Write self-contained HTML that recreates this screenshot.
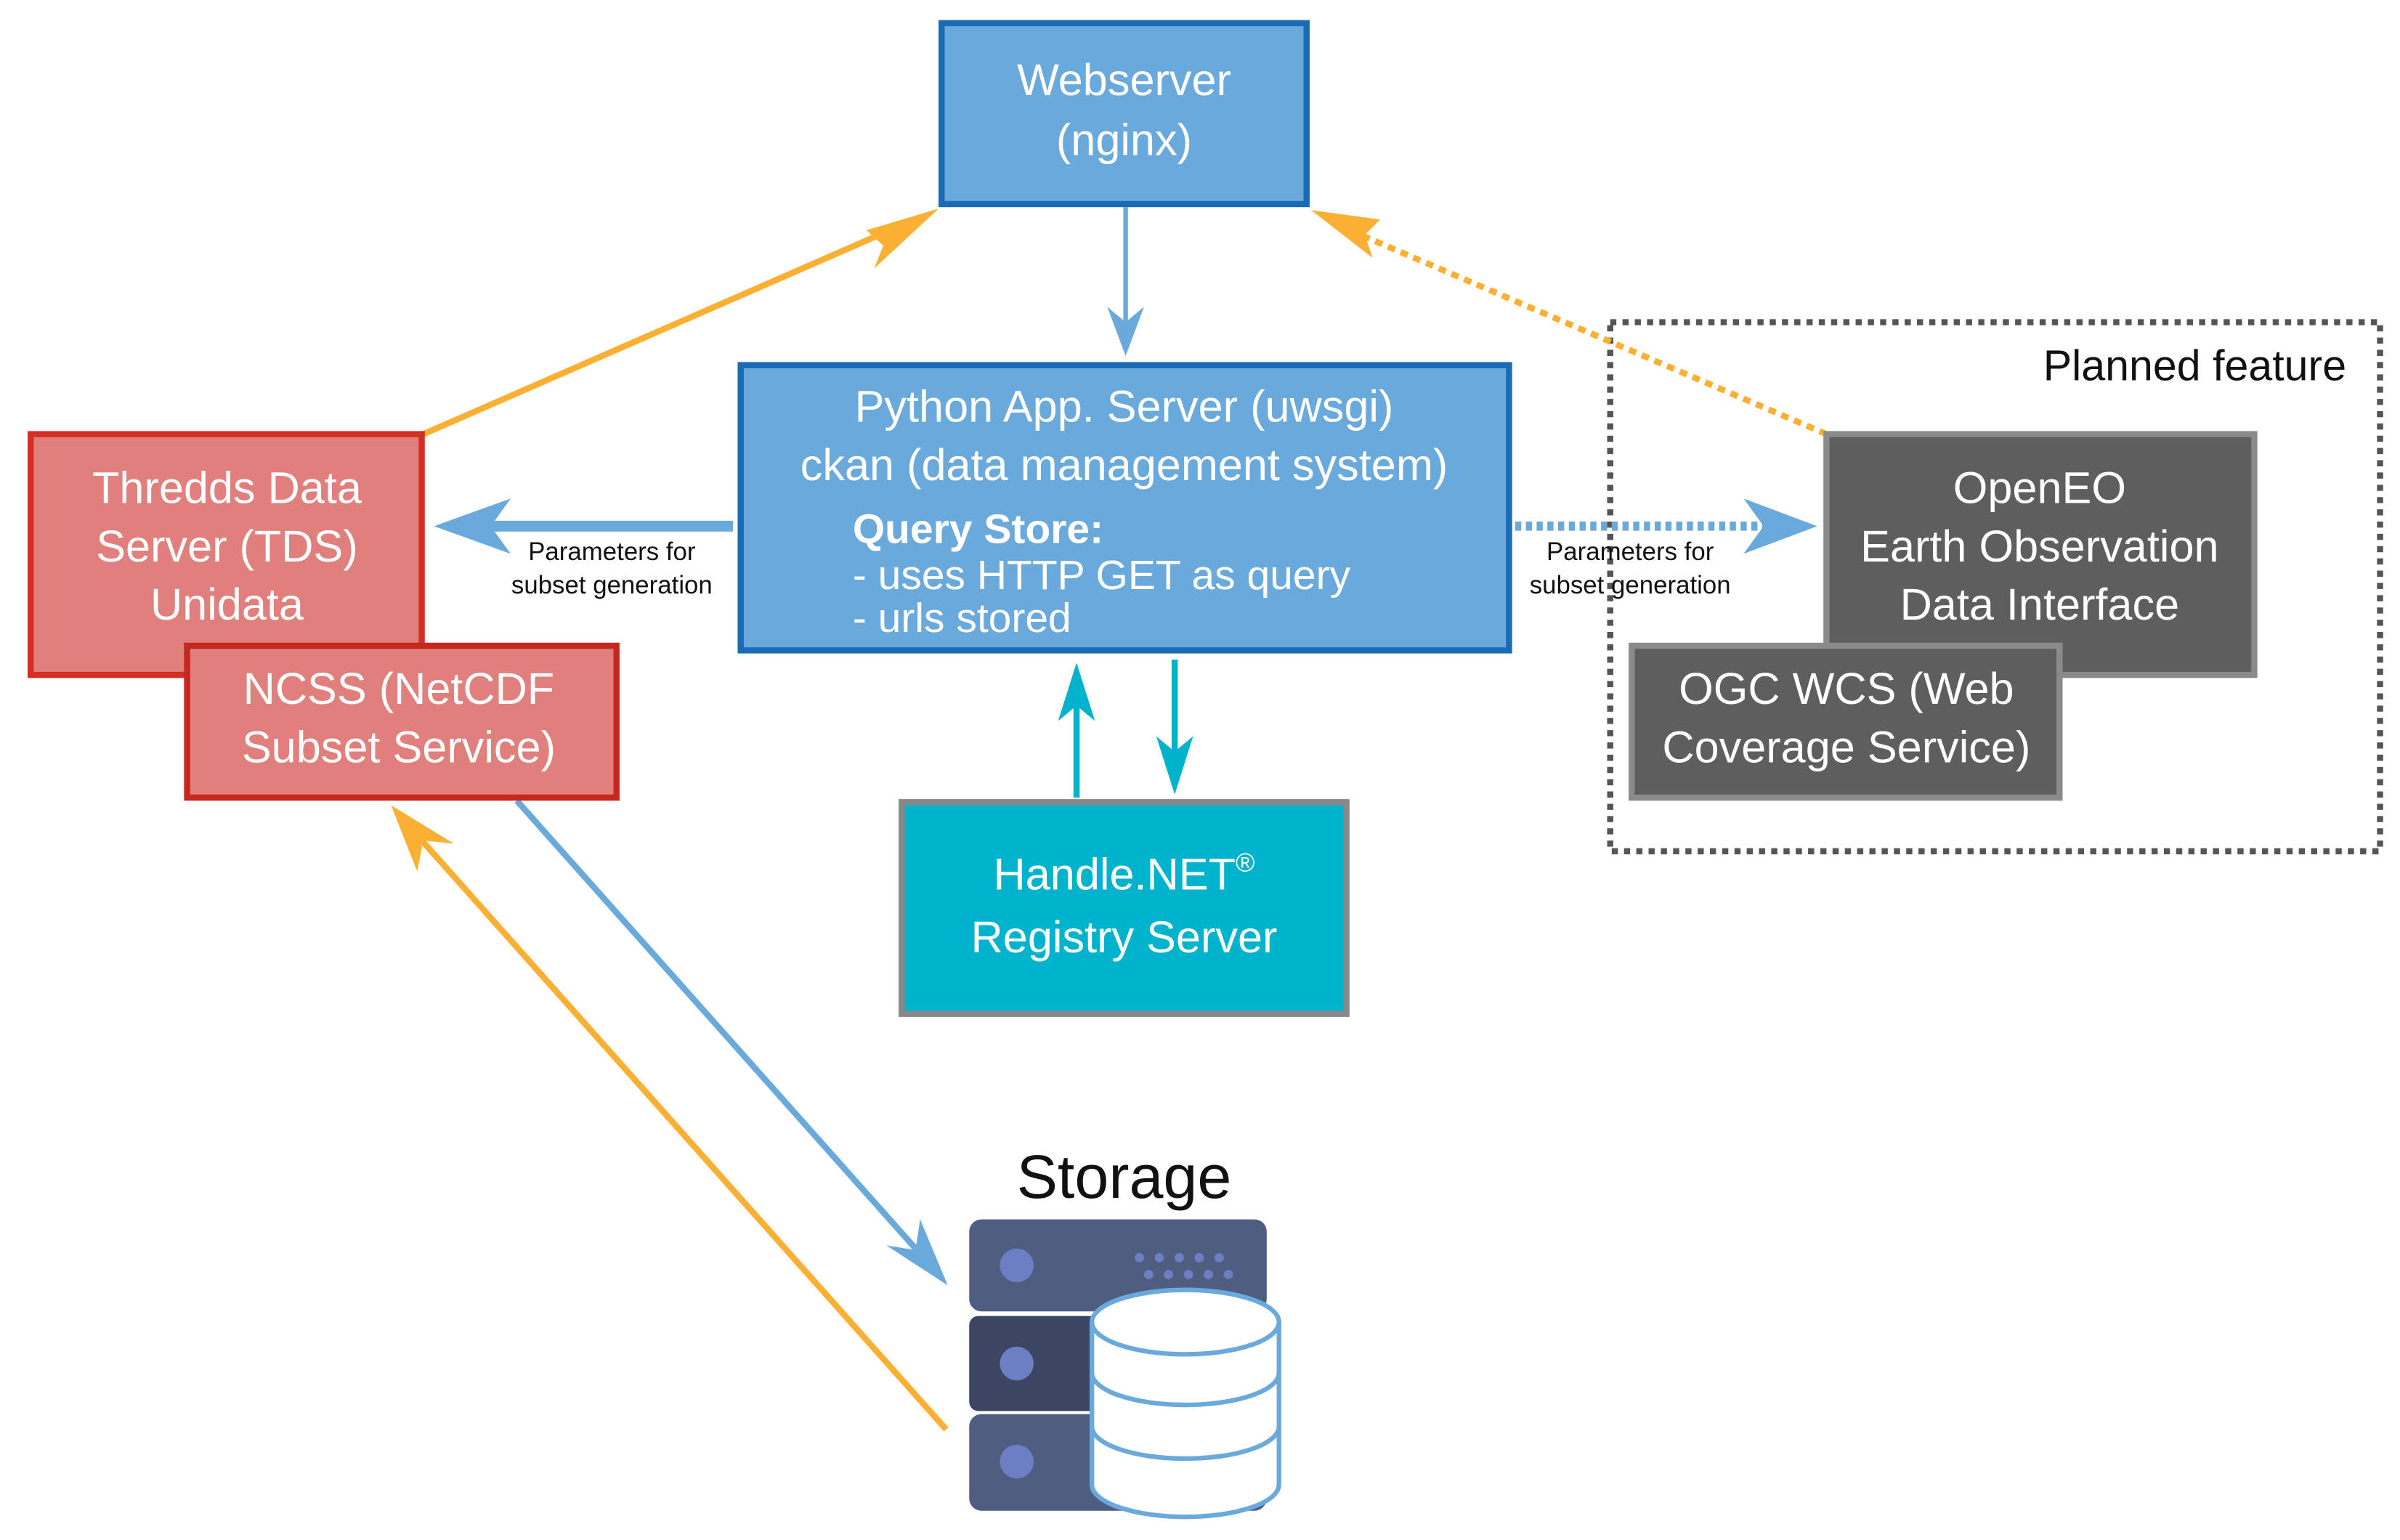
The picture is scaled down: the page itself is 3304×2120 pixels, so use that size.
<!DOCTYPE html>
<html><head><meta charset="utf-8"><style>html,body{margin:0;padding:0;background:#fff}svg{display:block}</style></head>
<body>
<svg width="3304" height="2120" viewBox="0 0 1565 1004" xmlns="http://www.w3.org/2000/svg" font-family="Liberation Sans, sans-serif">
<!-- dashed planned box -->
<rect x="1050" y="210" width="502" height="345" fill="none" stroke="#555" stroke-width="4" stroke-dasharray="4,4"/>
<text x="1530" y="248" text-anchor="end" font-size="28" fill="#111">Planned feature</text>

<!-- connectors -->
<line x1="276" y1="283" x2="585" y2="148" stroke="#fbb034" stroke-width="4"/>
<polygon points="612,136 565,150 576,160 570,175" fill="#fbb034"/>
<line x1="1191" y1="283" x2="880" y2="150" stroke="#fbb034" stroke-width="4" stroke-dasharray="5,4"/>
<polygon points="855,137 900,143 890,153 895,168" fill="#fbb034"/>
<line x1="734" y1="135" x2="734" y2="225" stroke="#6aa9dc" stroke-width="3"/>
<polygon points="734,232 722,200 734,210 746,200" fill="#6aa9dc"/>
<line x1="478" y1="343" x2="305" y2="343" stroke="#6aa9dc" stroke-width="7"/>
<polygon points="283,343 333,325 320,343 333,361" fill="#6aa9dc"/>
<line x1="988" y1="343" x2="1155" y2="343" stroke="#6aa9dc" stroke-width="6" stroke-dasharray="4,3"/>
<polygon points="1185,343 1137,325 1150,343 1137,361" fill="#6aa9dc"/>
<text x="399" y="365" text-anchor="middle" font-size="16.5" fill="#111">Parameters for</text>
<text x="399" y="387" text-anchor="middle" font-size="16.5" fill="#111">subset generation</text>
<text x="1063" y="365" text-anchor="middle" font-size="16.5" fill="#111">Parameters for</text>
<text x="1063" y="387" text-anchor="middle" font-size="16.5" fill="#111">subset generation</text>
<line x1="702" y1="520" x2="702" y2="450" stroke="#00b3cc" stroke-width="4"/>
<polygon points="702,432 690,470 702,460 714,470" fill="#00b3cc"/>
<line x1="766" y1="430" x2="766" y2="500" stroke="#00b3cc" stroke-width="4"/>
<polygon points="766,518 754,480 766,490 778,480" fill="#00b3cc"/>
<line x1="337" y1="522" x2="605" y2="823" stroke="#6aa9dc" stroke-width="4"/>
<polygon points="618,838 600,795 597,815 578,812" fill="#6aa9dc"/>
<line x1="617" y1="932" x2="268" y2="540" stroke="#fbb034" stroke-width="4"/>
<polygon points="255,525 272,568 276,548 296,550" fill="#fbb034"/>

<!-- boxes -->
<rect x="614" y="15" width="238" height="118" fill="#6aa9dc" stroke="#1a6bb5" stroke-width="4"/>
<text x="733" y="62" text-anchor="middle" font-size="29" fill="#fff">Webserver</text>
<text x="733" y="101" text-anchor="middle" font-size="29" fill="#fff">(nginx)</text>

<rect x="483" y="238" width="501" height="186" fill="#6aa9dc" stroke="#1a6bb5" stroke-width="4"/>
<text x="733" y="275" text-anchor="middle" font-size="29" fill="#fff">Python App. Server (uwsgi)</text>
<text x="733" y="313" text-anchor="middle" font-size="29" fill="#fff">ckan (data management system)</text>
<text x="556" y="354" font-size="27" font-weight="bold" fill="#fff">Query Store:</text>
<text x="556" y="384" font-size="27" fill="#fff">- uses HTTP GET as query</text>
<text x="556" y="412" font-size="27" fill="#fff">- urls stored</text>

<rect x="20" y="283" width="255" height="157" fill="#e07f7b" stroke="#d42e25" stroke-width="4"/>
<text x="148" y="328" text-anchor="middle" font-size="29" fill="#fff">Thredds Data</text>
<text x="148" y="366" text-anchor="middle" font-size="29" fill="#fff">Server (TDS)</text>
<text x="148" y="404" text-anchor="middle" font-size="29" fill="#fff">Unidata</text>
<rect x="122" y="421" width="280" height="99" fill="#e07f7b" stroke="#c4271e" stroke-width="4"/>
<text x="260" y="459" text-anchor="middle" font-size="29" fill="#fff">NCSS (NetCDF</text>
<text x="260" y="497" text-anchor="middle" font-size="29" fill="#fff">Subset Service)</text>

<rect x="1191" y="283" width="279" height="157" fill="#5e5e5e" stroke="#8a8a8a" stroke-width="4"/>
<text x="1330" y="328" text-anchor="middle" font-size="29" fill="#fff">OpenEO</text>
<text x="1330" y="366" text-anchor="middle" font-size="29" fill="#fff">Earth Observation</text>
<text x="1330" y="404" text-anchor="middle" font-size="29" fill="#fff">Data Interface</text>
<rect x="1064" y="421" width="279" height="99" fill="#5e5e5e" stroke="#8a8a8a" stroke-width="4"/>
<text x="1204" y="459" text-anchor="middle" font-size="29" fill="#fff">OGC WCS (Web</text>
<text x="1204" y="497" text-anchor="middle" font-size="29" fill="#fff">Coverage Service)</text>

<rect x="588" y="523" width="290" height="138" fill="#00b3cc" stroke="#888" stroke-width="4"/>
<text x="733" y="580" text-anchor="middle" font-size="29" fill="#fff">Handle.NET<tspan font-size="17" dy="-12">®</tspan></text>
<text x="733" y="621" text-anchor="middle" font-size="29" fill="#fff">Registry Server</text>

<!-- storage -->
<text x="733" y="781" text-anchor="middle" font-size="40" fill="#111">Storage</text>
<rect x="632" y="795" width="194" height="60" rx="8" fill="#4f5e80"/>
<rect x="632" y="858" width="194" height="62" rx="6" fill="#3b4762"/>
<rect x="632" y="922" width="194" height="63" rx="8" fill="#4f5e80"/>
<circle cx="663" cy="825" r="11" fill="#6c7fc4"/>
<circle cx="663" cy="889" r="11" fill="#6c7fc4"/>
<circle cx="663" cy="953" r="11" fill="#6c7fc4"/>
<g fill="#6c7fc4">
<circle cx="743" cy="820" r="3"/><circle cx="756" cy="820" r="3"/><circle cx="769" cy="820" r="3"/><circle cx="782" cy="820" r="3"/><circle cx="795" cy="820" r="3"/>
<circle cx="749" cy="831" r="3"/><circle cx="762" cy="831" r="3"/><circle cx="775" cy="831" r="3"/><circle cx="788" cy="831" r="3"/><circle cx="801" cy="831" r="3"/>
</g>
<path d="M712,862 L712,968 A61,21 0 0 0 834,968 L834,862" fill="#fff" stroke="#6aa9dc" stroke-width="3"/>
<ellipse cx="773" cy="862" rx="61" ry="21" fill="#fff" stroke="#6aa9dc" stroke-width="3"/>
<path d="M712,895 A61,21 0 0 0 834,895" fill="none" stroke="#6aa9dc" stroke-width="3"/>
<path d="M712,930 A61,21 0 0 0 834,930" fill="none" stroke="#6aa9dc" stroke-width="3"/>
</svg>
</body></html>
